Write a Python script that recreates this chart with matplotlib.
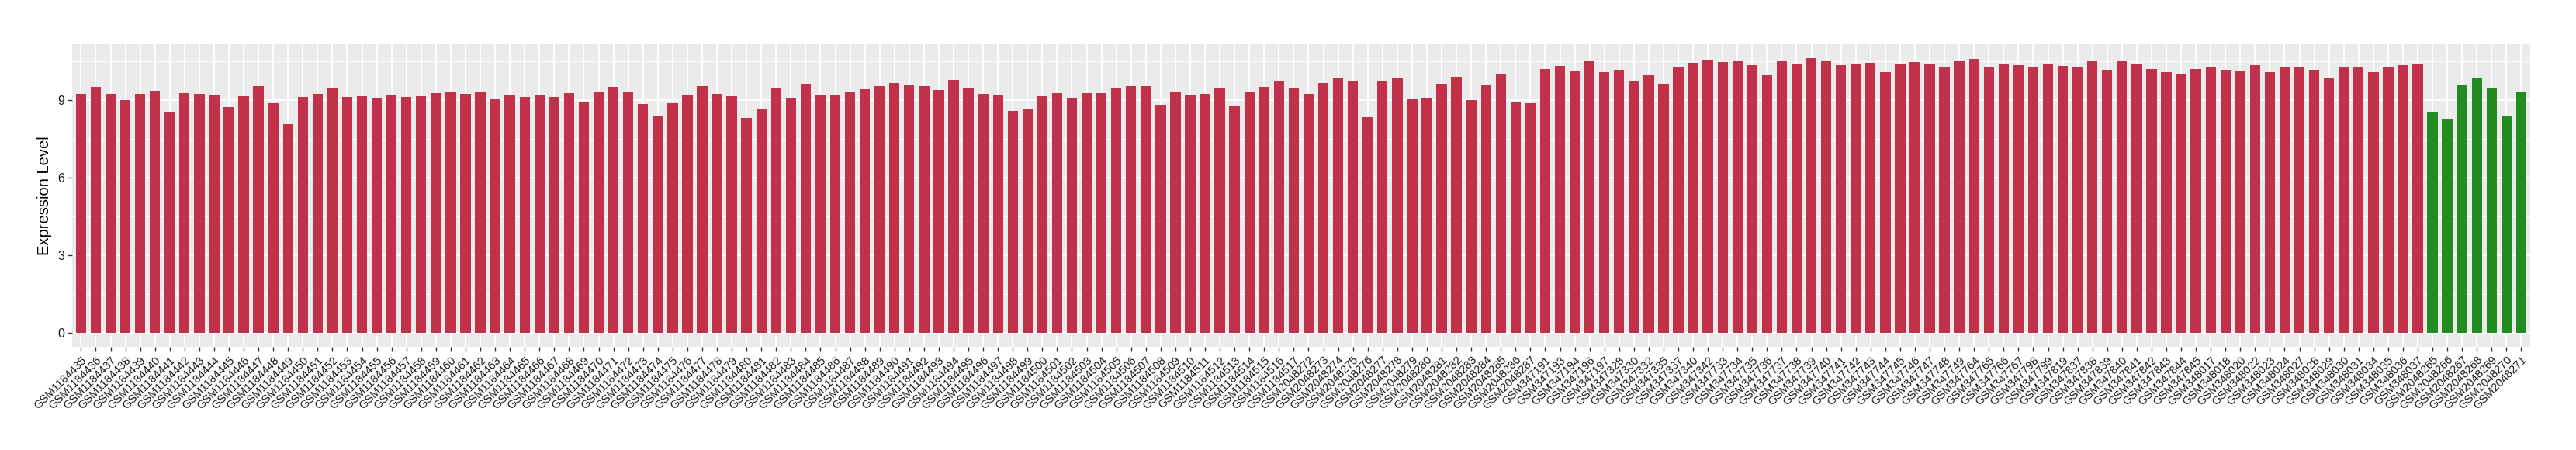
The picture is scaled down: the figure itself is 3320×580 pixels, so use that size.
import matplotlib
matplotlib.use("Agg")
import matplotlib.pyplot as plt
import numpy as np

plt.rcParams['font.family'] = ['Liberation Sans', 'DejaVu Sans']

# sample ids (tumour group first, normal group last)
ids_a = ["GSM%d" % n for n in range(1184435, 1184518)]
ids_b = ["GSM%d" % n for n in range(2048272, 2048288)]
ids_c = ["GSM347%s" % s for s in
         ["191", "193", "194", "196", "197", "328", "330", "332", "335", "337", "340", "342",
          "733", "734", "735", "736", "737", "738", "739", "740", "741", "742", "743", "744",
          "745", "746", "747", "748", "749", "764", "765", "766", "767", "798", "799", "819",
          "837", "838", "839", "840", "841", "842", "843", "844", "845"]]
ids_d = ["GSM348%s" % s for s in
         ["017", "018", "020", "022", "023", "024", "027", "028", "029", "030", "031",
          "034", "035", "036", "037"]]
tumor_ids = ids_a + ids_b + ids_c + ids_d
normal_ids = ["GSM%d" % n for n in range(2048265, 2048272)]

tumor_vals = [
    9.25, 9.52, 9.25, 9.01, 9.25, 9.37, 8.56, 9.28, 9.25, 9.22,
    8.74, 9.14, 9.55, 8.89, 8.08, 9.11, 9.25, 9.49, 9.13, 9.16,
    9.10, 9.19, 9.13, 9.16, 9.28, 9.34, 9.25, 9.34, 9.04, 9.22,
    9.13, 9.19, 9.13, 9.28,
    8.95, 9.34, 9.52, 9.31, 8.86, 8.41, 8.89, 9.22, 9.55, 9.25,
    9.16, 8.32, 8.65, 9.46, 9.10, 9.64, 9.22, 9.22, 9.34, 9.43,
    9.55, 9.67, 9.61, 9.55, 9.40, 9.79, 9.46, 9.25, 9.19, 8.59,
    8.65, 9.16,
    9.28, 9.10, 9.28, 9.28, 9.46, 9.55, 9.55, 8.83, 9.34, 9.22,
    9.25, 9.46, 8.77, 9.31, 9.52, 9.73, 9.46, 9.25, 9.67, 9.85,
    9.76, 8.35, 9.73, 9.88, 9.07, 9.10, 9.64, 9.91, 9.01, 9.61,
    10.00, 8.92, 8.89,
    10.21, 10.33, 10.12, 10.51, 10.09, 10.18, 9.73, 9.97, 9.64, 10.30,
    10.45, 10.57, 10.48, 10.51, 10.36, 9.97, 10.51, 10.39, 10.63, 10.54,
    10.36, 10.39, 10.45, 10.09, 10.42, 10.48, 10.42, 10.27, 10.54, 10.60,
    10.30, 10.42, 10.36,
    10.30, 10.42, 10.33, 10.30, 10.51, 10.18, 10.54, 10.42, 10.21, 10.09,
    10.00, 10.21, 10.30, 10.18, 10.12, 10.36, 10.09, 10.30, 10.27, 10.18,
    9.85, 10.30, 10.30, 10.09, 10.27, 10.36, 10.39,
]
normal_vals = [8.56, 8.26, 9.58, 9.88, 9.46, 8.38, 9.31]

tumor_color = '#C2314A'
normal_color = '#228B22'

labels = tumor_ids + normal_ids
values = tumor_vals + normal_vals
colors = [tumor_color] * len(tumor_vals) + [normal_color] * len(normal_vals)
n = len(values)
x = np.arange(n)

fig = plt.figure(figsize=(33.2, 5.8), dpi=100)
ax = fig.add_axes([0.028, 0.2293, 0.9542, 0.6724])
ax.set_facecolor('#EBEBEB')

# ggplot-like grid
for yv in [1.5, 4.5, 7.5, 10.5]:
    ax.axhline(yv, color='white', lw=0.7, zorder=0)
for yv in [0, 3, 6, 9]:
    ax.axhline(yv, color='white', lw=1.4, zorder=0)
for xv in x:
    ax.axvline(xv, color='white', lw=1.4, zorder=0)

ax.bar(x, values, width=0.7, color=colors, zorder=2)

vmax = max(values)
ax.set_ylim(-0.05 * vmax, vmax * 1.05)
ax.set_xlim(-0.6, n - 1 + 0.6)
ax.set_yticks([0, 3, 6, 9])
ax.set_yticklabels(['0', '3', '6', '9'], fontsize=11.5)
ax.set_xticks(x)
ax.set_xticklabels(labels, rotation=45, ha='right', va='top',
                   rotation_mode='anchor', fontsize=10.5)
ax.tick_params(axis='both', length=4, width=1, color='#333333', labelcolor='#1a1a1a', pad=3)
ax.set_ylabel('Expression Level', fontsize=14.5, labelpad=5)
for s in ax.spines.values():
    s.set_visible(False)

fig.savefig('out.png', dpi=100)
